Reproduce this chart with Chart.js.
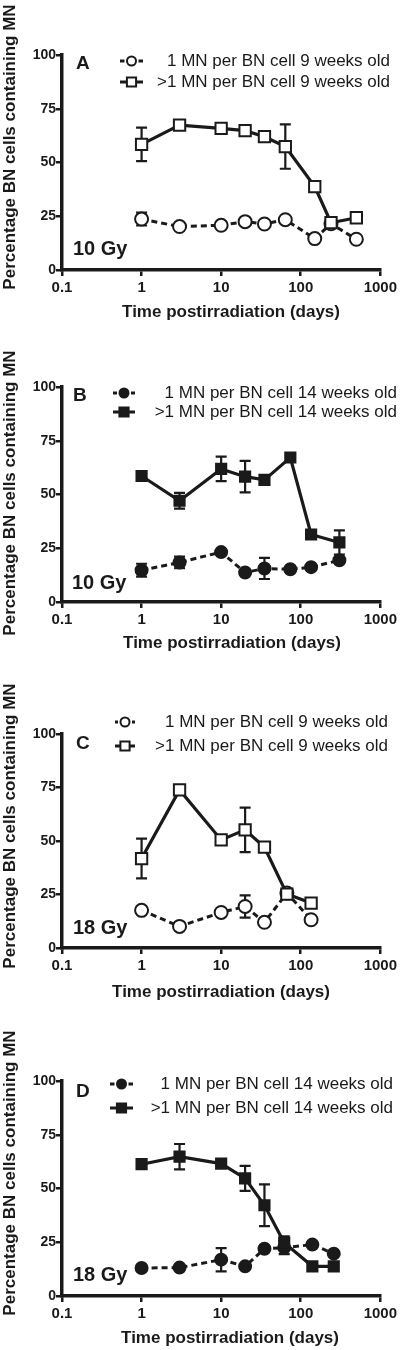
<!DOCTYPE html>
<html>
<head>
<meta charset="utf-8">
<script src="https://cdn.jsdelivr.net/npm/chart.js@4/dist/chart.umd.min.js"></script>
<style>
  body { margin: 0; background: #fff; }
  #wrap { position: relative; width: 400px; height: 1350px; }
  canvas { position: absolute; left: 0; }
</style>
</head>
<body>
<div id="wrap">
  <canvas id="cA" width="400" height="330" style="top:0px"></canvas>
  <canvas id="cB" width="400" height="340" style="top:330px"></canvas>
  <canvas id="cC" width="400" height="340" style="top:670px"></canvas>
  <canvas id="cD" width="400" height="340" style="top:1010px"></canvas>
</div>
<script>
// axis ticks
var xTicks = [0.1, 1, 10, 100, 1000];
var yTicks = [0, 25, 50, 75, 100];

// A: 10 Gy, 9 weeks old
var daysA = [1, 3, 10, 20, 35, 64, 150, 240, 500];
var oneA = [23.7, 20.2, 20.8, 22.5, 21.4, 23.4, 14.6, 21.5, 14.3];
var oneErrA = [3, 0, 0, 0, 0, 0, 0, 0, 0];
var multiA = [58.4, 67.4, 65.9, 64.8, 62, 57.4, 38.8, 22, 24.3];
var multiErrA = [7.8, 0, 0, 0, 0, 10.3, 0, 0, 0];

// B: 10 Gy, 14 weeks old
var daysB = [1, 3, 10, 20, 35, 74, 135, 306];
var oneB = [14.8, 18.4, 23.2, 13.7, 15.6, 15.2, 16.2, 19.4];
var oneErrB = [3, 2.7, 0, 0, 4.9, 0, 0, 0];
var multiB = [58.6, 47.1, 61.9, 58.3, 56.8, 67.2, 31.4, 27.7];
var multiErrB = [0, 3.7, 5.7, 7.3, 0, 0, 0, 5.6];

// C: 18 Gy, 9 weeks old
var daysC = [1, 3, 10, 20, 35, 67, 135];
var oneC = [17.6, 10.1, 16.6, 19.4, 12, 25.7, 13.2];
var oneErrC = [0, 0, 0, 5.2, 0, 0, 0];
var multiC = [41.8, 73.9, 50.5, 55.2, 47.1, 25.2, 21];
var multiErrC = [9.3, 0, 0, 10.4, 0, 0, 0];

// D: 18 Gy, 14 weeks old
var daysD = [1, 3, 10, 20, 35, 62, 140, 260];
var oneD = [13, 13.2, 16.9, 13.8, 22, 22.5, 23.9, 19.7];
var oneErrD = [0, 0, 5.4, 0, 0, 3, 0, 0];
var multiD = [61.3, 64.8, 61.6, 54.7, 42.2, 24.8, 13.8, 13.8];
var multiErrD = [0, 5.9, 0, 5.8, 9.7, 3, 0, 0];

var INK = '#1a1a1a';
var FONT = '"Liberation Sans", Arial, sans-serif';

function pts(days, vals) {
  return days.map(function (d, i) { return { x: d, y: vals[i] }; });
}

function drawMarker(ctx, style, r, x, y, filled, bw) {
  ctx.save();
  ctx.beginPath();
  if (style === 'rect') {
    var s = r * Math.SQRT1_2;
    ctx.rect(x - s, y - s, 2 * s, 2 * s);
  } else {
    ctx.arc(x, y, r, 0, Math.PI * 2);
  }
  ctx.fillStyle = filled ? INK : '#fff';
  ctx.fill();
  ctx.lineWidth = bw;
  ctx.strokeStyle = INK;
  ctx.stroke();
  ctx.restore();
}

// error bars go under the markers
var errorBars = {
  id: 'errorBars',
  beforeDatasetsDraw: function (chart) {
    var ctx = chart.ctx, xs = chart.scales.x, ys = chart.scales.y;
    ctx.save();
    ctx.strokeStyle = INK;
    ctx.lineWidth = 2.2;
    chart.data.datasets.forEach(function (ds) {
      ds.data.forEach(function (p, i) {
        var e = ds.errors[i];
        if (!e) return;
        var x = xs.getPixelForValue(p.x);
        var y1 = ys.getPixelForValue(p.y + e);
        var y2 = ys.getPixelForValue(p.y - e);
        ctx.beginPath();
        ctx.moveTo(x, y1); ctx.lineTo(x, y2);
        ctx.moveTo(x - 5.5, y1); ctx.lineTo(x + 5.5, y1);
        ctx.moveTo(x - 5.5, y2); ctx.lineTo(x + 5.5, y2);
        ctx.stroke();
      });
    });
    ctx.restore();
  }
};

// letters, dose, legend and axis titles
var panelText = {
  id: 'panelText',
  afterDraw: function (chart) {
    var o = chart.options.plugins.panelText;
    var ctx = chart.ctx;
    ctx.save();
    ctx.fillStyle = INK;
    ctx.textBaseline = 'middle';

    ctx.font = 'bold 19px ' + FONT;
    ctx.textAlign = 'left';
    ctx.fillText(o.letter, o.letterX, o.letterY);
    ctx.font = 'bold 20px ' + FONT;
    ctx.fillText(o.dose, o.doseX, o.doseY);

    ctx.font = 'bold 17px ' + FONT;
    ctx.textAlign = 'center';
    ctx.fillText('Time postirradiation (days)', o.xTitleX, o.xTitleY);
    ctx.save();
    ctx.translate(10, o.yTitleY);
    ctx.rotate(-Math.PI / 2);
    ctx.fillText('Percentage BN cells containing MN', 0, 0);
    ctx.restore();

    // legend: short stub each side of the marker
    ctx.font = '17px ' + FONT;
    ctx.textAlign = 'right';
    chart.data.datasets.forEach(function (ds, i) {
      var y = o.legendY[i];
      var mid = (o.legendX0 + o.legendX1) / 2;
      var gap = ds.borderDash ? 7 : 0;
      ctx.save();
      ctx.strokeStyle = INK;
      ctx.lineWidth = 3;
      ctx.beginPath();
      ctx.moveTo(o.legendX0, y);
      ctx.lineTo(mid - gap, y);
      ctx.moveTo(mid + gap, y);
      ctx.lineTo(o.legendX1, y);
      ctx.stroke();
      ctx.restore();
      drawMarker(ctx, ds.pointStyle, ds.pointStyle === 'rect' ? 6.5 : 4.5,
        mid, y, ds.pointBackgroundColor !== '#fff', 2);
      ctx.fillText(ds.label, o.legendRight, y);
    });
    ctx.restore();
  }
};

function makeChart(id, days, one, oneErr, multi, multiErr, filled, age, box, txt) {
  var fill = filled ? INK : '#fff';
  var canvas = document.getElementById(id);
  var H = canvas.height;
  return new Chart(canvas, {
    type: 'line',
    data: {
      datasets: [
        {
          label: '1 MN per BN cell ' + age + ' weeks old',
          data: pts(days, one),
          errors: oneErr,
          borderColor: INK,
          borderWidth: 3,
          borderDash: [6, 4],
          pointStyle: 'circle',
          pointRadius: filled ? 6 : 6.5,
          pointBorderWidth: 2,
          pointBorderColor: INK,
          pointBackgroundColor: fill,
          order: 1
        },
        {
          label: '>1 MN per BN cell ' + age + ' weeks old',
          data: pts(days, multi),
          errors: multiErr,
          borderColor: INK,
          borderWidth: 3.2,
          pointStyle: 'rect',
          pointRadius: filled ? 7.2 : 8,
          pointBorderWidth: 2,
          pointBorderColor: INK,
          pointBackgroundColor: fill,
          order: 0
        }
      ]
    },
    options: {
      responsive: false,
      animation: false,
      layout: { padding: { left: 0, right: 400 - box.right, top: box.top, bottom: 0 } },
      plugins: {
        legend: { display: false },
        tooltip: { enabled: false },
        panelText: txt
      },
      scales: {
        x: {
          type: 'logarithmic',
          min: 0.1,
          max: 1000,
          afterFit: function (s) { s.height = H - box.bottom; },
          afterBuildTicks: function (s) {
            s.ticks = xTicks.map(function (v) { return { value: v }; });
          },
          ticks: {
            color: INK,
            padding: 3,
            maxRotation: 0,
            font: { family: FONT, size: 15, weight: 'bold' },
            callback: function (v) { return String(v); }
          },
          grid: { drawOnChartArea: false, color: INK, lineWidth: 2.5, tickLength: 6 },
          border: { color: INK, width: 3.5 }
        },
        y: {
          min: 0,
          max: 100,
          afterFit: function (s) { s.width = box.left; },
          afterBuildTicks: function (s) {
            s.ticks = yTicks.map(function (v) { return { value: v }; });
          },
          ticks: {
            color: INK,
            padding: 0,
            font: { family: FONT, size: 14, weight: 'bold' }
          },
          grid: { drawOnChartArea: false, color: INK, lineWidth: 2.5, tickLength: 6 },
          border: { color: INK, width: 3.5 }
        }
      }
    },
    plugins: [errorBars, panelText]
  });
}

makeChart('cA', daysA, oneA, oneErrA, multiA, multiErrA, false, 9,
  { left: 62, right: 382, top: 55, bottom: 270 },
  { letter: 'A', letterX: 76, letterY: 64, dose: '10 Gy', doseX: 73, doseY: 249,
    legendY: [61, 82], legendX0: 120, legendX1: 143, legendRight: 390,
    xTitleX: 231, xTitleY: 312, yTitleY: 147 });

makeChart('cB', daysB, oneB, oneErrB, multiB, multiErrB, true, 14,
  { left: 62, right: 383, top: 57, bottom: 272 },
  { letter: 'B', letterX: 73, letterY: 66, dose: '10 Gy', doseX: 72, doseY: 253,
    legendY: [63, 82], legendX0: 113, legendX1: 135, legendRight: 397,
    xTitleX: 232, xTitleY: 313, yTitleY: 163 });

makeChart('cC', daysC, oneC, oneErrC, multiC, multiErrC, false, 9,
  { left: 62, right: 382, top: 64, bottom: 278 },
  { letter: 'C', letterX: 76, letterY: 74, dose: '18 Gy', doseX: 73, doseY: 258,
    legendY: [52, 76], legendX0: 115, legendX1: 135, legendRight: 388,
    xTitleX: 221, xTitleY: 322, yTitleY: 156 });

makeChart('cD', daysD, oneD, oneErrD, multiD, multiErrD, true, 14,
  { left: 62, right: 383, top: 71, bottom: 286 },
  { letter: 'D', letterX: 76, letterY: 82, dose: '18 Gy', doseX: 73, doseY: 265,
    legendY: [74, 98], legendX0: 110, legendX1: 133, legendRight: 393,
    xTitleX: 230, xTitleY: 328, yTitleY: 163 });
</script>
</body>
</html>
